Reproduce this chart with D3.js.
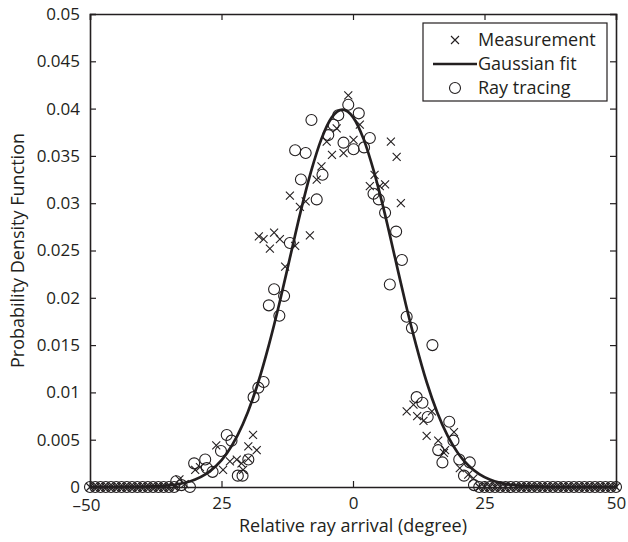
<!DOCTYPE html>
<html lang="en">
<head>
    <meta charset="UTF-8">
    <title>Probability Density Function</title>
    <script src="https://d3js.org/d3.v7.min.js"></script>
    <style>
        body {
            margin: 0;
            background: #fff;
            font-family: "Open Sans", Arial, sans-serif;
        }
        text {
            fill: #231f20;
        }
    </style>
</head>
<body>
    <div id="chart"></div>

    <script>
        // x tick values and how the original prints them
        const xTicks = [-50, -25, 0, 25, 50];
        const xTickLabels = ["\u201350", "25", "0", "25", "50"];
        const yTicks = [0, 0.005, 0.01, 0.015, 0.02, 0.025, 0.03, 0.035, 0.04, 0.045, 0.05];

        // points along the left/right flat zero run (both series)
        const zeroLeft = d3.range(-50, -33, 1);
        const zeroRight = d3.range(24, 51, 1);

        const measX = [-33.0, -32.0, -30.0, -29.1, -26.0, -24.7, -23.4, -22.1, -21.2, -20.9, -19.9, -19.9, -19.0, -18.3,
            -17.9, -17.0, -15.8, -15.0, -13.9, -12.9, -12.0, -11.0, -10.1, -9.0, -8.2, -6.9, -6.0, -5.0, -4.0, -3.1,
            -1.8, -0.9, 0.1, 1.3, 3.2, 4.1, 5.1, 6.1, 7.2, 8.3, 9.1,
            10.2, 11.5, 12.2, 13.4, 14.0, 15.0, 16.2, 17.3, 17.5, 19.2, 20.3, 21.9, 22.9];
        const measY = [0.0008, 0.0003, 0.0018, 0.0021, 0.0044, 0.0018, 0.0027, 0.0029, 0.0025, 0.0018, 0.0030, 0.0043, 0.0055, 0.0039,
            0.0265, 0.0262, 0.0252, 0.0269, 0.0262, 0.0233, 0.0308, 0.0255, 0.0296, 0.0302, 0.0266, 0.0325, 0.0339, 0.0365, 0.0351, 0.0379,
            0.0353, 0.0414, 0.0367, 0.0383, 0.0318, 0.0330, 0.0318, 0.0320, 0.0365, 0.0349, 0.0300,
            0.0080, 0.0087, 0.0075, 0.0070, 0.0054, 0.0080, 0.0049, 0.0036, 0.0039, 0.0058, 0.0020, 0.0013, 0.0009];

        // ray tracing (circles)
        const rayX = [-33.6, -32.6, -31.0, -30.2, -28.1, -27.8, -26.7, -25.1, -24.0, -23.1, -21.9, -21.0, -19.9,
            -18.9, -18.0, -17.0, -16.0, -15.0, -14.0, -13.1, -12.0, -11.0, -9.9, -9.0, -7.9, -6.9, -5.8, -4.7, -3.7,
            -2.8, -1.8, -0.9, 0.1, 1.1, 2.1, 3.2, 3.9, 4.9, 6.1, 7.0, 8.2, 9.3, 10.2, 11.2, 15.1,
            12.1, 13.2, 14.2, 16.2, 17.0, 18.3, 19.1, 20.2, 21.1, 22.2, 23.0];
        const rayY = [0.0006, 0.0002, 0.0000, 0.0025, 0.0029, 0.0020, 0.0016, 0.0038, 0.0055, 0.0049, 0.0012, 0.0012, 0.0029,
            0.0095, 0.0105, 0.0111, 0.0192, 0.0209, 0.0181, 0.0202, 0.0258, 0.0356, 0.0325, 0.0353, 0.0388, 0.0304, 0.0330, 0.0372, 0.0383,
            0.0393, 0.0364, 0.0404, 0.0357, 0.0395, 0.0359, 0.0369, 0.0310, 0.0304, 0.0290, 0.0214, 0.0270, 0.0240, 0.0180, 0.0168, 0.0150,
            0.0095, 0.0089, 0.0074, 0.0039, 0.0026, 0.0069, 0.0049, 0.0029, 0.0012, 0.0026, 0.0002];

        // Gaussian fit, sampled every 2 degrees off the drawn curve
        const fitX = d3.range(-50, 51, 2);
        const fitY = [0, 0, 0, 0.000006, 0.000013, 0.000029, 0.000061, 0.000123, 0.000239, 0.000443, 0.000792, 0.00136, 0.00224,
            0.00355, 0.0054, 0.0079, 0.0111, 0.0150, 0.0194, 0.0242, 0.0290, 0.0333, 0.0368, 0.0391, 0.0399,
            0.0391, 0.0368, 0.0333, 0.0290, 0.0242, 0.0194, 0.0150, 0.0111, 0.0079, 0.0054, 0.00355, 0.00224,
            0.00136, 0.00079, 0.00044, 0.00024, 0.00012, 0.00006, 0.00003, 0, 0, 0, 0, 0, 0, 0];

        const W = 628, H = 542;
        const margin = { top: 14, right: 12, bottom: 55, left: 90 };
        const width = W - margin.left - margin.right;
        const height = H - margin.top - margin.bottom;
        const ink = "#231f20";

        const svg = d3.select("#chart")
            .append("svg")
            .attr("width", W)
            .attr("height", H);

        const g = svg.append("g")
            .attr("transform", `translate(${margin.left},${margin.top})`);

        const x = d3.scaleLinear().domain([-50, 50]).range([0, width]);
        const y = d3.scaleLinear().domain([0, 0.05]).range([height, 0]);

        const zeros = zeroLeft.concat(zeroRight);
        const meas = zeros.map(v => [v, 0]).concat(measX.map((v, i) => [v, measY[i]]));
        const rays = zeros.map(v => [v, 0]).concat(rayX.map((v, i) => [v, rayY[i]]));
        const fit = fitX.map((v, i) => [v, fitY[i]]);

        const crossPath = s => `M${-s},${-s}L${s},${s}M${-s},${s}L${s},${-s}`;

        // circles
        g.append("g")
            .selectAll("circle")
            .data(rays)
            .enter().append("circle")
            .attr("cx", d => x(d[0]))
            .attr("cy", d => y(d[1]))
            .attr("r", 5.5)
            .attr("fill", "none")
            .attr("stroke", ink)
            .attr("stroke-width", 1.1);

        // crosses
        g.append("g")
            .selectAll("path")
            .data(meas)
            .enter().append("path")
            .attr("transform", d => `translate(${x(d[0])},${y(d[1])})`)
            .attr("d", crossPath(4))
            .attr("stroke", ink)
            .attr("stroke-width", 1.1);

        // fit line
        g.append("path")
            .datum(fit)
            .attr("fill", "none")
            .attr("stroke", ink)
            .attr("stroke-width", 2.7)
            .attr("d", d3.line().x(d => x(d[0])).y(d => y(d[1])).curve(d3.curveMonotoneX));

        // axes box, ticks pointing inward on all four sides
        const tickFont = 17;
        const titleFont = 18;
        const xb = g.append("g")
            .attr("transform", `translate(0,${height})`)
            .call(d3.axisBottom(x).tickValues(xTicks).tickSize(-6).tickPadding(10)
                .tickFormat((d, i) => xTickLabels[i]));
        const xt = g.append("g")
            .call(d3.axisTop(x).tickValues(xTicks).tickSize(-6).tickFormat(""));
        const yl = g.append("g")
            .call(d3.axisLeft(y).tickValues(yTicks).tickSize(-6).tickPadding(10)
                .tickFormat(d => d === 0 ? "0" : d3.format("")(+d.toFixed(3))));
        const yr = g.append("g")
            .attr("transform", `translate(${width},0)`)
            .call(d3.axisRight(y).tickValues(yTicks).tickSize(-6).tickFormat(""));

        [xb, xt, yl, yr].forEach(a => {
            a.select(".domain").attr("stroke", ink).attr("stroke-width", 1.6);
            a.selectAll(".tick line").attr("stroke", ink).attr("stroke-width", 1.2);
            a.selectAll("text")
                .attr("font-family", "'Open Sans', Arial, sans-serif")
                .attr("font-size", tickFont)
                .attr("fill", ink);
        });
        // the minus-signed label hangs to the left of its tick
        xb.selectAll(".tick text")
            .filter((d, i) => xTickLabels[i].startsWith("\u2013"))
            .attr("text-anchor", "end")
            .attr("dx", 10)
            .attr("y", 12);

        // axis titles
        svg.append("text")
            .attr("x", margin.left + width / 2)
            .attr("y", H - 10)
            .attr("text-anchor", "middle")
            .attr("font-size", titleFont)
            .text("Relative ray arrival (degree)");

        svg.append("text")
            .attr("transform", `translate(24,${margin.top + height / 2}) rotate(-90)`)
            .attr("text-anchor", "middle")
            .attr("font-size", titleFont)
            .text("Probability Density Function");

        // legend
        const legend = svg.append("g").attr("transform", "translate(423,23)");
        legend.append("rect")
            .attr("width", 184)
            .attr("height", 78)
            .attr("fill", "#fff")
            .attr("stroke", ink)
            .attr("stroke-width", 1.2);

        const items = ["Measurement", "Gaussian fit", "Ray tracing"];
        const row = legend.selectAll(".legend-item")
            .data(items)
            .enter().append("g")
            .attr("class", "legend-item")
            .attr("transform", (d, i) => `translate(0,${17 + i * 24})`);

        row.append("text")
            .attr("x", 55)
            .attr("y", 6)
            .attr("font-size", titleFont)
            .text(d => d);

        row.filter((d, i) => i === 0).append("path")
            .attr("transform", "translate(32,0)")
            .attr("d", crossPath(4))
            .attr("stroke", ink)
            .attr("stroke-width", 1.1);
        row.filter((d, i) => i === 1).append("line")
            .attr("x1", 10).attr("x2", 54)
            .attr("stroke", ink)
            .attr("stroke-width", 2.7);
        row.filter((d, i) => i === 2).append("circle")
            .attr("cx", 32)
            .attr("r", 5.5)
            .attr("fill", "none")
            .attr("stroke", ink)
            .attr("stroke-width", 1.1);
    </script>
</body>
</html>
